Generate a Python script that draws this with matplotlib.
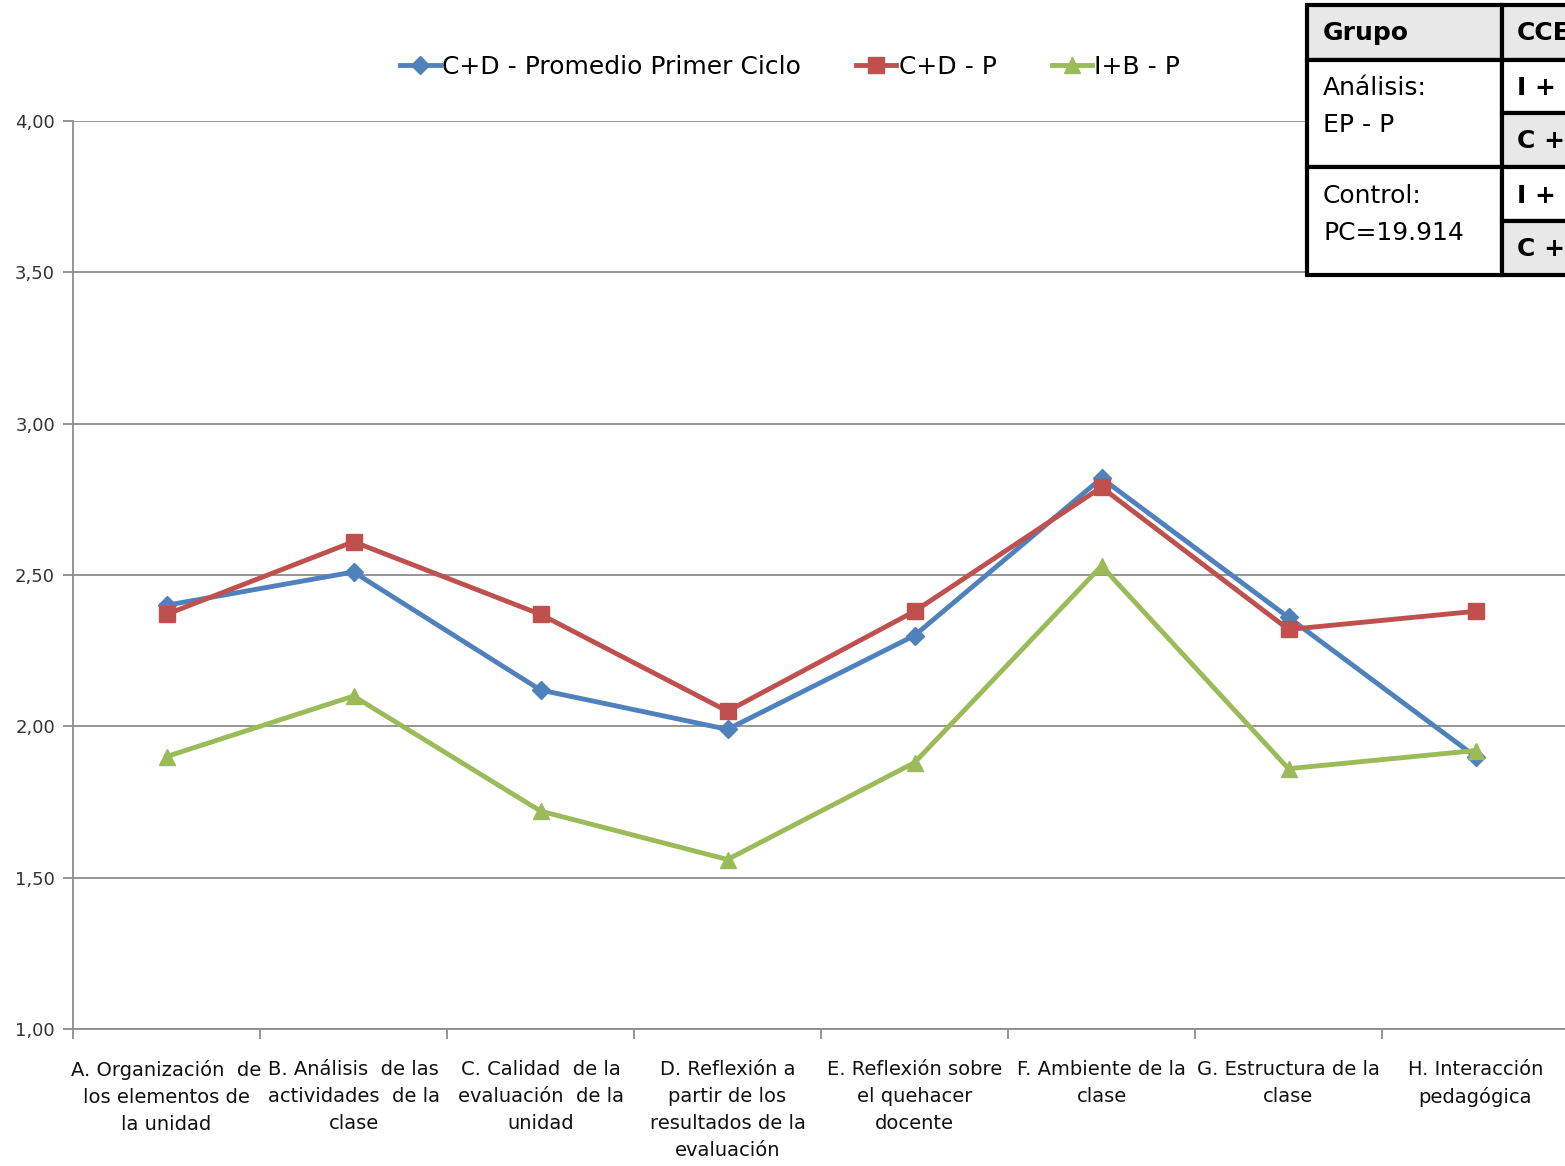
import matplotlib.pyplot as plt
from matplotlib.patches import Rectangle
from matplotlib.lines import Line2D

categorias = [
    "A. Organización  de\nlos elementos de\nla unidad",
    "B. Análisis  de las\nactividades  de la\nclase",
    "C. Calidad  de la\nevaluación  de la\nunidad",
    "D. Reflexión a\npartir de los\nresultados de la\nevaluación",
    "E. Reflexión sobre\nel quehacer\ndocente",
    "F. Ambiente de la\nclase",
    "G. Estructura de la\nclase",
    "H. Interacción\npedagógica",
]
cd_promedio = [2.40, 2.51, 2.12, 1.99, 2.30, 2.82, 2.36, 1.90]
cd_p = [2.37, 2.61, 2.37, 2.05, 2.38, 2.79, 2.32, 2.38]
ib_p = [1.90, 2.10, 1.72, 1.56, 1.88, 2.53, 1.86, 1.92]
series = ["C+D - Promedio Primer Ciclo", "C+D - P", "I+B - P"]
y_ticks = [1.0, 1.5, 2.0, 2.5, 3.0, 3.5, 4.0]

W, H = 1565, 1166
FONT = ["Liberation Sans Narrow", "DejaVu Sans"]
fig = plt.figure(figsize=(W / 100, H / 100), dpi=100)

def fx(x):
    return x / W

def fy(y):
    return 1 - y / H

ax = fig.add_axes([fx(73), fy(1029), fx(1569 - 73), fy(121) - fy(1029)])

colores = ["#4F81BD", "#C0504D", "#9BBB59"]
marcadores = ["D", "s", "^"]
tamanos = [9, 11, 11]
xs = list(range(len(categorias)))
for vals, nombre, c, m, ms in zip([cd_promedio, cd_p, ib_p], series, colores, marcadores, tamanos):
    ax.plot(xs, vals, color=c, lw=3.5, marker=m, markersize=ms, label=nombre,
            markeredgecolor=c, zorder=3)

ax.set_xlim(-0.5, 7.5)
ax.set_ylim(1.0, 4.0)
ax.set_yticks(y_ticks)
ax.set_yticklabels([f"{v:.2f}".replace(".", ",") for v in y_ticks],
                   fontsize=13, color="#333333", family=FONT[1:])
ax.yaxis.grid(True, color="#8c8c8c", lw=1.3)
ax.set_axisbelow(True)

ax.set_xticks([x - 0.5 for x in xs], minor=False)
ax.set_xticklabels([])
ax.set_xticks(xs, minor=True)
ax.set_xticklabels(categorias, minor=True, fontsize=14, family=FONT,
                   color="#111111", linespacing=1.55, va="top")
ax.tick_params(axis="x", which="minor", length=0, pad=22)
ax.tick_params(axis="x", which="major", length=7, color="#8c8c8c", width=1.3)
ax.tick_params(axis="y", length=7, color="#8c8c8c", width=1.3, pad=6)

for s in ["top", "right"]:
    ax.spines[s].set_visible(False)
for s in ["left", "bottom"]:
    ax.spines[s].set_color("#8c8c8c")
    ax.spines[s].set_linewidth(1.3)

handles = [Line2D([], [], color=c, lw=3.5, marker=m, markersize=ms)
           for c, m, ms in zip(colores, marcadores, tamanos)]
fig.legend(handles, series, loc="center", bbox_to_anchor=(fx(790), fy(67)),
           ncol=3, frameon=False, prop={"family": FONT, "size": 18},
           handlelength=1.6, handletextpad=0.1, columnspacing=2.2)

# tabla superpuesta (recortada en el borde, como en el original)
gris = "#e8e8e8"
celdas = [
    (1307, 5, 195, 55, gris), (1502, 5, 80, 55, gris),
    (1307, 60, 195, 107, "white"), (1502, 60, 80, 53, "white"), (1502, 113, 80, 54, gris),
    (1307, 167, 195, 108, "white"), (1502, 167, 80, 54, "white"), (1502, 221, 80, 54, gris),
]
for x0, y0, w, h, col in celdas:
    fig.add_artist(Rectangle((fx(x0), fy(y0 + h)), fx(w), fy(y0) - fy(y0 + h),
                             transform=fig.transFigure, facecolor=col,
                             edgecolor="black", lw=3, zorder=5))

def texto(x, y, s, bold=False):
    fig.text(fx(x), fy(y), s, fontsize=18, family=FONT[1:], va="center", ha="left",
             weight="bold" if bold else "normal", zorder=6)

texto(1323, 33, "Grupo", True)
texto(1517, 33, "CCEE", True)
texto(1323, 88, "Análisis:")
texto(1323, 125, "EP - P")
texto(1517, 88, "I + B", True)
texto(1517, 141, "C + D", True)
texto(1323, 196, "Control:")
texto(1323, 233, "PC=19.914")
texto(1517, 196, "I + B", True)
texto(1517, 249, "C + D", True)

fig.savefig("out.png", dpi=100)
